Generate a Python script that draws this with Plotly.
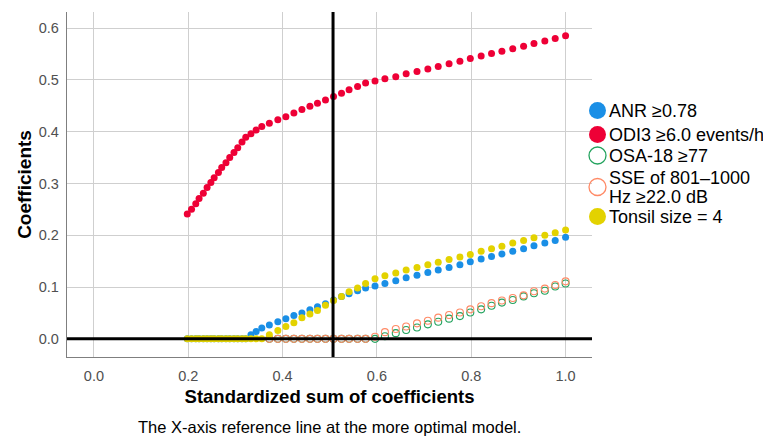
import plotly.graph_objects as go

# ---- data ----
x_sum = [0.198, 0.207, 0.216, 0.223, 0.232, 0.240, 0.248, 0.255, 0.264, 0.271,
         0.280, 0.288, 0.297, 0.305, 0.314, 0.322, 0.333, 0.344, 0.356, 0.372,
         0.390, 0.407, 0.424, 0.441, 0.458, 0.474, 0.491, 0.508, 0.525, 0.541,
         0.559, 0.576, 0.596, 0.617, 0.640, 0.662, 0.685, 0.708, 0.730, 0.753,
         0.776, 0.798, 0.821, 0.843, 0.865, 0.888, 0.911, 0.933, 0.956, 0.978, 1.000]

odi3 = [0.241, 0.250, 0.261, 0.271, 0.281, 0.292, 0.302, 0.311, 0.321, 0.331,
        0.340, 0.350, 0.360, 0.369, 0.380, 0.389, 0.396, 0.403, 0.410, 0.416,
        0.423, 0.429, 0.436, 0.443, 0.449, 0.455, 0.461, 0.468, 0.474, 0.481,
        0.487, 0.494, 0.498, 0.502, 0.506, 0.512, 0.516, 0.521, 0.526, 0.531,
        0.536, 0.541, 0.546, 0.551, 0.555, 0.560, 0.565, 0.570, 0.575, 0.580, 0.585]

anr = [0.0] * 16 + [0.008, 0.014, 0.021, 0.027,
       0.033, 0.039, 0.045, 0.050, 0.056, 0.062, 0.068, 0.075, 0.082, 0.087,
       0.093, 0.098, 0.102, 0.107, 0.112, 0.118, 0.123, 0.128, 0.133, 0.138,
       0.143, 0.149, 0.154, 0.159, 0.164, 0.169, 0.174, 0.180, 0.185, 0.190, 0.196]

tonsil = [0.0] * 19 + [0.008,
          0.016, 0.024, 0.031, 0.041, 0.048, 0.055, 0.065, 0.074, 0.082, 0.091,
          0.098, 0.107, 0.116, 0.122, 0.127, 0.133, 0.138, 0.143, 0.148, 0.153,
          0.158, 0.163, 0.169, 0.174, 0.179, 0.185, 0.190, 0.195, 0.200, 0.205, 0.210]

osa18 = [0.0] * 33 + [0.005, 0.011, 0.017, 0.022, 0.028, 0.033, 0.039,
         0.044, 0.051, 0.057, 0.064, 0.070, 0.075, 0.082, 0.088, 0.093, 0.101, 0.107]

sse = [0.0] * 32 + [0.004, 0.013, 0.019, 0.024, 0.030, 0.035, 0.041, 0.046,
       0.051, 0.057, 0.063, 0.069, 0.074, 0.079, 0.084, 0.092, 0.097, 0.104, 0.111]

optimal_x = 0.507
x_ticks = [0.0, 0.2, 0.4, 0.6, 0.8, 1.0]
y_ticks = [0.0, 0.1, 0.2, 0.3, 0.4, 0.5, 0.6]

series_names = ["ANR ≥0.78", "ODI3 ≥6.0 events/h", "OSA-18 ≥77",
                "SSE of 801–1000 Hz ≥22.0 dB", "Tonsil size = 4"]
legend_lines = [["ANR ≥0.78"], ["ODI3 ≥6.0 events/h"], ["OSA-18 ≥77"],
                ["SSE of 801–1000", "Hz ≥22.0 dB"], ["Tonsil size = 4"]]
series_values = [anr, odi3, osa18, sse, tonsil]
series_colors = ["#1a8fe6", "#ee0036", "#23a35e", "#ff8a66", "#e3d200"]
series_symbols = ["circle", "circle", "circle-open", "circle-open", "circle"]

draw_order = [2, 3, 0, 4, 1]

# page body has an 8px margin, so the figure is 8px smaller and everything
# is placed 8px up/left of the reference pixel positions
OFF = 8
W, H = 771 - OFF, 440 - OFF
L, T = 67 - OFF, 12 - OFF
PR, PB = 592 - OFF, 357 - OFF   # plot right / bottom in figure px
R, B = W - PR, H - PB

fig = go.Figure()
for i in draw_order:
    ys = series_values[i]
    col = series_colors[i]
    sym = series_symbols[i]
    if sym == "circle-open":
        mk = dict(symbol=sym, size=7, color=col, line=dict(width=1.1, color=col))
        start = 19
    else:
        mk = dict(symbol=sym, size=7, color=col, line=dict(width=0))
        start = 0
    fig.add_trace(go.Scatter(x=x_sum[start:], y=ys[start:], mode="markers",
                             marker=mk, name=series_names[i], showlegend=False))

# reference lines
fig.add_shape(type="line", xref="x", yref="paper", x0=optimal_x, x1=optimal_x,
              y0=0, y1=1, line=dict(color="black", width=3), layer="above")
fig.add_shape(type="line", xref="paper", yref="y", x0=0, x1=1, y0=0, y1=0,
              line=dict(color="black", width=3), layer="above")

pw = PR - L
ph = PB - T
def px_to_paper_x(px):
    return (px - OFF - L) / pw
def px_to_paper_y(py):
    return (PB - (py - OFF)) / ph

# manual legend (reference pixel positions)
leg_marker_y = [110.5, 134.5, 155.5, 187, 216.5]
leg_text_y = [[110.5], [134.5], [155.5], [177.5, 196.5], [216.5]]
for k in range(5):
    col = series_colors[k]
    filled = series_symbols[k] == "circle"
    fig.add_shape(type="circle", xref="paper", yref="paper",
                  xsizemode="pixel", ysizemode="pixel",
                  xanchor=px_to_paper_x(597.5), yanchor=px_to_paper_y(leg_marker_y[k]),
                  x0=-8.5, x1=8.5, y0=-8.5, y1=8.5,
                  fillcolor=col if filled else "rgba(0,0,0,0)",
                  line=dict(color=col, width=0 if filled else 1.3))
    for line_txt, yy in zip(legend_lines[k], leg_text_y[k]):
        fig.add_annotation(xref="paper", yref="paper", x=px_to_paper_x(607),
                           y=px_to_paper_y(yy), text=line_txt, showarrow=False,
                           xanchor="left", yanchor="middle", align="left",
                           font=dict(size=18, color="black"))

# caption
fig.add_annotation(xref="paper", yref="paper", x=0.5, y=px_to_paper_y(427),
                   text="The X-axis reference line at the more optimal model.",
                   showarrow=False, xanchor="center", yanchor="middle",
                   font=dict(size=16.5, color="black"))

fig.update_layout(
    width=W, height=H,
    margin=dict(l=L, r=R, t=T, b=B, pad=0),
    paper_bgcolor="white", plot_bgcolor="white",
    font=dict(family="Liberation Sans, Arial, sans-serif", color="black"),
    showlegend=False,
    xaxis=dict(range=[-0.057, 1.056], tickvals=x_ticks,
               ticktext=[f"{v:.1f}" for v in x_ticks],
               showgrid=True, gridcolor="#cfcfcf", gridwidth=1.3,
               zeroline=False, showline=True, linecolor="#7f7f7f", linewidth=1.3,
               ticks="", ticklabelstandoff=5,
               tickfont=dict(size=14.5, color="#505050"),
               title=dict(text="<b>Standardized sum of coefficients</b>",
                          font=dict(size=18.5, color="black"), standoff=7)),
    yaxis=dict(range=[-0.035, 0.631], tickvals=y_ticks,
               ticktext=[f"{v:.1f}" for v in y_ticks],
               showgrid=True, gridcolor="#cfcfcf", gridwidth=1.3,
               zeroline=False, showline=True, linecolor="#7f7f7f", linewidth=1.3,
               ticks="", ticklabelstandoff=4,
               tickfont=dict(size=14.5, color="#505050"),
               title=dict(text="<b>Coefficients</b>",
                          font=dict(size=19, color="black"), standoff=2)),
)

fig.write_html("out.html")
